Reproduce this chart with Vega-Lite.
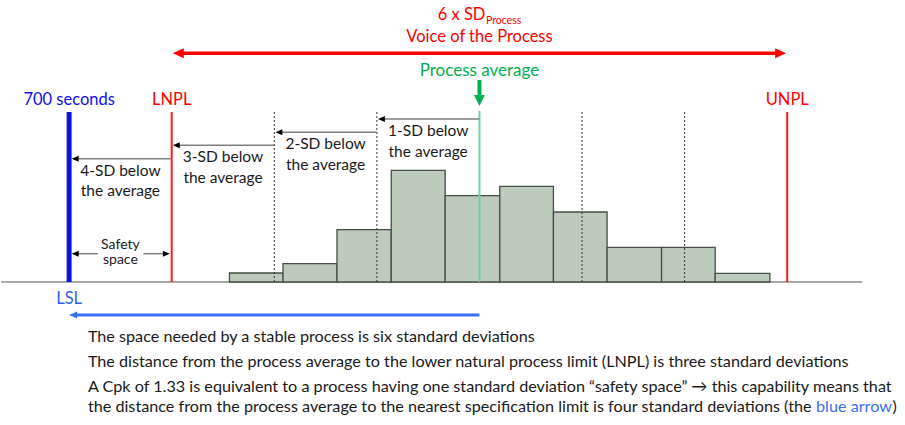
{
  "$schema": "https://vega.github.io/schema/vega-lite/v6.json",
  "width": 905,
  "height": 425,
  "autosize": {"type": "fit", "contains": "padding"},
  "padding": 0,
  "background": "white",
  "config": {"view": {"stroke": null}},
  "datasets": {
    "baseline": [{"z": -4.664, "z2": 3.729, "level": 0}],
    "histogram": [
      {"z": -2.437, "z2": -1.915, "level": 9},
      {"z": -1.915, "z2": -1.389, "level": 18.3},
      {"z": -1.389, "z2": -0.86, "level": 52.3},
      {"z": -0.86, "z2": -0.334, "level": 111.7},
      {"z": -0.334, "z2": 0.198, "level": 86.3},
      {"z": 0.198, "z2": 0.721, "level": 95.7},
      {"z": 0.721, "z2": 1.244, "level": 70},
      {"z": 1.244, "z2": 1.775, "level": 34.7},
      {"z": 1.775, "z2": 2.298, "level": 34.7},
      {"z": 2.298, "z2": 2.831, "level": 8.7}
    ],
    "lsl": [{"name": "LSL", "z": -4, "level": 0, "level2": 170}],
    "npl": [
      {"name": "LNPL", "z": -3, "level": 0, "level2": 170},
      {"name": "UNPL", "z": 3, "level": 0, "level2": 170}
    ],
    "sdlines": [
      {"name": "-2 SD", "z": -2, "level": 0, "level2": 171},
      {"name": "-1 SD", "z": -1, "level": 0, "level2": 171},
      {"name": "+1 SD", "z": 1, "level": 0, "level2": 171},
      {"name": "+2 SD", "z": 2, "level": 0, "level2": 171}
    ],
    "average": [{"name": "Process average", "z": 0, "level": 0, "level2": 171}],
    "red_shaft": [{"z": -2.911, "z2": 2.911, "level": 228.7}],
    "red_left": [{"z": -2.989, "level": 228.7}],
    "red_right": [{"z": 2.989, "level": 228.7}],
    "blue_shaft": [{"z": -3.93, "z2": 0, "level": -33}],
    "blue_left": [{"z": -4.0, "level": -33}],
    "green_shaft": [{"z": 0, "level": 202, "level2": 186}],
    "green_down": [{"z": 0, "level": 176}],
    "sd_shafts": [
      {"z": -0.96, "z2": 0, "level": 163},
      {"z": -1.96, "z2": -1, "level": 149.7},
      {"z": -2.96, "z2": -2, "level": 136.7},
      {"z": -3.94, "z2": -3, "level": 123.3},
      {"z": -3.94, "z2": -3.72, "level": 28.3},
      {"z": -3.275, "z2": -3.05, "level": 28.3}
    ],
    "sd_left": [
      {"z": -0.99, "level": 163},
      {"z": -1.99, "level": 149.7},
      {"z": -2.99, "level": 136.7},
      {"z": -3.975, "level": 123.3},
      {"z": -3.975, "level": 28.3}
    ],
    "sd_right": [{"z": -3.018, "level": 28.3}],
    "black_labels": [
      {"text": "1-SD below", "z": -0.5, "level": 151.5},
      {"text": "the average", "z": -0.5, "level": 130.5},
      {"text": "2-SD below", "z": -1.5, "level": 138},
      {"text": "the average", "z": -1.5, "level": 117},
      {"text": "3-SD below", "z": -2.5, "level": 125},
      {"text": "the average", "z": -2.5, "level": 104.5},
      {"text": "4-SD below", "z": -3.5, "level": 111.5},
      {"text": "the average", "z": -3.5, "level": 91}
    ],
    "safety_labels": [
      {"text": ["Safety", "space"], "z": -3.5, "level": 37.5}
    ],
    "red_labels": [
      {"text": "LNPL", "z": -3, "level": 182.5},
      {"text": "UNPL", "z": 3, "level": 182.5},
      {"text": "Voice of the Process", "z": 0, "level": 245}
    ],
    "red_title": [{"text": "6 x SD", "z": 0.058, "level": 267}],
    "red_sub": [{"text": "Process", "z": 0.063, "level": 261}],
    "blue_label": [{"text": "700 seconds", "z": -4, "level": 182.5}],
    "lsl_label": [{"text": "LSL", "z": -4, "level": -17}],
    "green_label": [{"text": "Process average", "z": 0, "level": 211}],
    "notes": [
      {"text": "The space needed by a stable process is six standard deviations", "z": -3.817, "level": -54.7},
      {"text": "The distance from the process average to the lower natural process limit (LNPL) is three standard deviations", "z": -3.817, "level": -80.3},
      {"text": "A Cpk of 1.33 is equivalent to a process having one standard deviation “safety space” → this capability means that", "z": -3.817, "level": -104.7},
      {"text": "the distance from the process average to the nearest specification limit is four standard deviations (the", "z": -3.817, "level": -125.3},
      {"text": ")", "z": 4.026, "level": -125.3}
    ],
    "notes_blue": [{"text": "blue arrow", "z": 3.281, "level": -125.3}]
  },
  "encoding": {
    "x": {"field": "z", "type": "quantitative", "scale": {"domain": [-4.664, 4.148], "nice": false, "zero": false}, "axis": null},
    "y": {"field": "level", "type": "quantitative", "scale": {"domain": [-143, 282], "nice": false, "zero": false}, "axis": null}
  },
  "layer": [
    {"data": {"name": "baseline"}, "mark": {"type": "rule", "color": "#8c8c8c", "strokeWidth": 1.5}, "encoding": {"x2": {"field": "z2"}}},
    {"data": {"name": "histogram"}, "mark": {"type": "rect", "fill": "#bccbbc", "stroke": "#465046", "strokeWidth": 1.3}, "encoding": {"x2": {"field": "z2"}, "y2": {"datum": 0}}},
    {"data": {"name": "sdlines"}, "mark": {"type": "rule", "color": "#333333", "strokeWidth": 1, "strokeDash": [2, 2]}, "encoding": {"y2": {"field": "level2"}}},
    {"data": {"name": "average"}, "mark": {"type": "rule", "color": "#72d09a", "strokeWidth": 2}, "encoding": {"y2": {"field": "level2"}}},
    {"data": {"name": "npl"}, "mark": {"type": "rule", "color": "#ff1a1a", "strokeWidth": 2}, "encoding": {"y2": {"field": "level2"}}},
    {"data": {"name": "lsl"}, "mark": {"type": "rule", "color": "#0a14e6", "strokeWidth": 5}, "encoding": {"y2": {"field": "level2"}}},
    {"data": {"name": "red_shaft"}, "mark": {"type": "rule", "color": "#ff0000", "strokeWidth": 3.5}, "encoding": {"x2": {"field": "z2"}}},
    {"data": {"name": "red_left"}, "mark": {"type": "point", "shape": "M0,0L1,-0.45L1,0.45Z", "filled": true, "opacity": 1, "color": "#ff0000", "size": 484}},
    {"data": {"name": "red_right"}, "mark": {"type": "point", "shape": "M0,0L-1,-0.45L-1,0.45Z", "filled": true, "opacity": 1, "color": "#ff0000", "size": 484}},
    {"data": {"name": "blue_shaft"}, "mark": {"type": "rule", "color": "#3b6ff2", "strokeWidth": 3}, "encoding": {"x2": {"field": "z2"}}},
    {"data": {"name": "blue_left"}, "mark": {"type": "point", "shape": "M0,0L1,-0.45L1,0.45Z", "filled": true, "opacity": 1, "color": "#3b6ff2", "size": 256}},
    {"data": {"name": "green_shaft"}, "mark": {"type": "rule", "color": "#00b050", "strokeWidth": 4}, "encoding": {"y2": {"field": "level2"}}},
    {"data": {"name": "green_down"}, "mark": {"type": "point", "shape": "M0,0L-0.5,-1L0.5,-1Z", "filled": true, "opacity": 1, "color": "#00b050", "size": 484}},
    {"data": {"name": "sd_shafts"}, "mark": {"type": "rule", "color": "#7f7f7f", "strokeWidth": 1.5}, "encoding": {"x2": {"field": "z2"}}},
    {"data": {"name": "sd_left"}, "mark": {"type": "point", "shape": "M0,0L1,-0.43L1,0.43Z", "filled": true, "opacity": 1, "color": "#000000", "size": 196}},
    {"data": {"name": "sd_right"}, "mark": {"type": "point", "shape": "M0,0L-1,-0.43L-1,0.43Z", "filled": true, "opacity": 1, "color": "#000000", "size": 196}},
    {"data": {"name": "black_labels"}, "mark": {"type": "text", "font": "Lato", "fontSize": 15.5, "color": "#1a1a1a", "align": "center", "baseline": "middle"}, "encoding": {"text": {"field": "text"}}},
    {"data": {"name": "safety_labels"}, "mark": {"type": "text", "font": "Lato", "fontSize": 14, "lineHeight": 15, "color": "#1a1a1a", "align": "center", "baseline": "middle"}, "encoding": {"text": {"field": "text"}}},
    {"data": {"name": "red_labels"}, "mark": {"type": "text", "font": "Lato", "fontSize": 16.5, "color": "#ff0000", "align": "center", "baseline": "middle"}, "encoding": {"text": {"field": "text"}}},
    {"data": {"name": "red_title"}, "mark": {"type": "text", "font": "Lato", "fontSize": 16.5, "color": "#ff0000", "align": "right", "baseline": "middle"}, "encoding": {"text": {"field": "text"}}},
    {"data": {"name": "red_sub"}, "mark": {"type": "text", "font": "Lato", "fontSize": 10.5, "color": "#ff0000", "align": "left", "baseline": "middle"}, "encoding": {"text": {"field": "text"}}},
    {"data": {"name": "blue_label"}, "mark": {"type": "text", "font": "Lato", "fontSize": 16.5, "color": "#1010f0", "align": "center", "baseline": "middle"}, "encoding": {"text": {"field": "text"}}},
    {"data": {"name": "lsl_label"}, "mark": {"type": "text", "font": "Lato", "fontSize": 16.5, "color": "#2e5ee8", "align": "center", "baseline": "middle"}, "encoding": {"text": {"field": "text"}}},
    {"data": {"name": "green_label"}, "mark": {"type": "text", "font": "Lato", "fontSize": 17, "color": "#00b050", "align": "center", "baseline": "middle"}, "encoding": {"text": {"field": "text"}}},
    {"data": {"name": "notes"}, "mark": {"type": "text", "font": "Lato", "fontSize": 16.2, "color": "#1a1a1a", "align": "left", "baseline": "middle"}, "encoding": {"text": {"field": "text"}}},
    {"data": {"name": "notes_blue"}, "mark": {"type": "text", "font": "Lato", "fontSize": 16.2, "color": "#3b6ff2", "align": "left", "baseline": "middle"}, "encoding": {"text": {"field": "text"}}}
  ]
}
